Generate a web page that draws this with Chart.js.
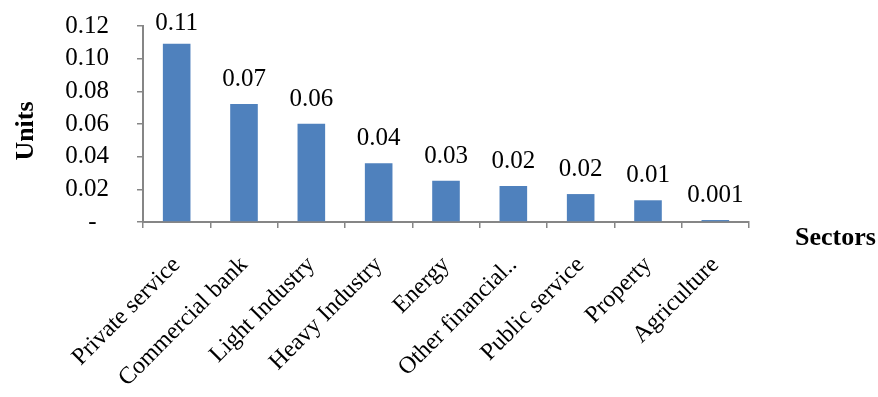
<!DOCTYPE html>
<html>
<head>
<meta charset="utf-8">
<script src="https://cdn.jsdelivr.net/npm/chart.js@4/dist/chart.umd.min.js"></script>
<style>
  html, body { margin: 0; padding: 0; background: #ffffff; }
  #wrap { width: 878px; height: 397px; }
</style>
</head>
<body>
<div id="wrap"><canvas id="chart" width="878" height="397"></canvas></div>
<script>
// Sector values (units)
const sectors = ['Private service', 'Commercial bank', 'Light Industry', 'Heavy Industry', 'Energy',
                 'Other financial..', 'Public service', 'Property', 'Agriculture'];
const units = [0.1092, 0.0723, 0.0602, 0.036, 0.0252, 0.0220, 0.0171, 0.0133, 0.0012];
const yTicks = [0, 0.02, 0.04, 0.06, 0.08, 0.10, 0.12];

const SERIF = "'Liberation Serif', 'Times New Roman', serif";
const AXIS_GREY = '#868686';
const BAR_BLUE = '#4F81BD';

function fmtValue(v) {
  return v < 0.005 ? v.toFixed(3) : v.toFixed(2);
}

// Value labels above each bar plus the two axis titles
const annotate = {
  id: 'annotate',
  afterDatasetsDraw(chart) {
    const ctx = chart.ctx;
    const meta = chart.getDatasetMeta(0);
    ctx.save();
    ctx.fillStyle = '#000000';
    ctx.font = '25px ' + SERIF;
    ctx.textAlign = 'center';
    ctx.textBaseline = 'alphabetic';
    meta.data.forEach((bar, i) => {
      const base = Math.max(bar.y - 18, 29.5);
      ctx.fillText(fmtValue(units[i]), bar.x, base);
    });

    ctx.font = 'bold 26px ' + SERIF;
    ctx.textAlign = 'left';
    ctx.fillText('Sectors', 795, 245);

    ctx.translate(33, 131);
    ctx.rotate(-Math.PI / 2);
    ctx.textAlign = 'center';
    ctx.fillText('Units', 0, 0);
    ctx.restore();
  }
};

new Chart(document.getElementById('chart'), {
  type: 'bar',
  data: {
    labels: sectors,
    datasets: [{
      data: units,
      backgroundColor: BAR_BLUE,
      borderWidth: 0,
      barPercentage: 0.41,
      categoryPercentage: 1.0
    }]
  },
  options: {
    responsive: false,
    animation: false,
    devicePixelRatio: 1,
    layout: { padding: { top: 26, right: 129, left: 0, bottom: 0 } },
    plugins: {
      legend: { display: false },
      tooltip: { enabled: false },
      title: { display: false }
    },
    scales: {
      x: {
        offset: true,
        grid: {
          offset: true,
          drawOnChartArea: false,
          drawTicks: true,
          tickLength: 6,
          color: AXIS_GREY,
          lineWidth: 1.5
        },
        border: { color: AXIS_GREY, width: 2 },
        ticks: {
          color: '#000000',
          font: { family: SERIF, size: 24 },
          minRotation: 45,
          maxRotation: 45,
          autoSkip: false,
          padding: 23
        },
        afterFit(scale) {
          scale.height = 175;
          scale.paddingLeft = 0;
          scale.paddingRight = 0;
        }
      },
      y: {
        min: 0,
        max: 0.12,
        afterBuildTicks(scale) { scale.ticks = yTicks.map(v => ({ value: v })); },
        grid: {
          drawOnChartArea: false,
          drawTicks: true,
          tickLength: 6,
          color: AXIS_GREY,
          lineWidth: 1.5
        },
        border: { color: AXIS_GREY, width: 2 },
        ticks: {
          color: '#000000',
          font: { family: SERIF, size: 25 },
          padding: 28,
          autoSkip: false,
          callback(v) { return v === 0 ? '-  ' : v.toFixed(2); }
        },
        afterFit(scale) {
          scale.width = 143;
          scale.paddingTop = 0;
          scale.paddingBottom = 0;
        }
      }
    }
  },
  plugins: [annotate]
});
</script>
</body>
</html>
